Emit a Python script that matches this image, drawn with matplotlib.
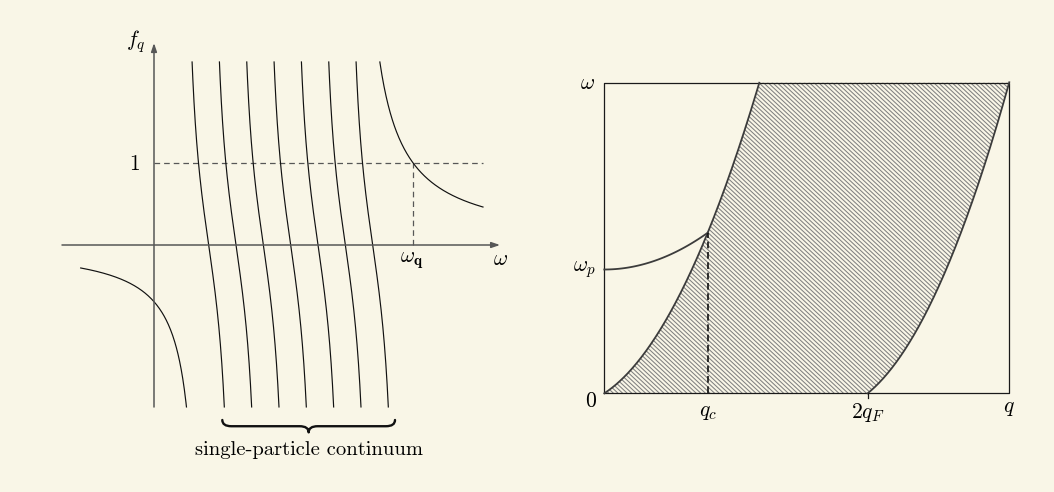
import matplotlib.pyplot as plt
import numpy as np
from matplotlib.path import Path
from matplotlib.patches import PathPatch, Polygon
from matplotlib.collections import LineCollection

plt.rcParams['mathtext.fontset'] = 'cm'
plt.rcParams['font.family'] = 'serif'
plt.rcParams['font.serif'] = ['cmr10']
plt.rcParams['axes.unicode_minus'] = False

bg = '#f9f6e7'

# left panel: f_q(omega) with the particle-hole branches in between
branch_zeros = [2/3, 1, 4/3, 5/3, 2, 7/3, 8/3]   # where each branch crosses f = 0
branch_width = 0.2
branch_stiff = 1.4
low_pole, low_weight = 0.609, 0.421
high_pole, high_weight = 2.425, 0.735
f_top, f_bottom = 2.232, -1.975
low_start = -0.894
high_end = 4.012
omega_q = high_pole + high_weight      # f_q(omega_q) = 1

# right panel: excitation spectrum omega(q)
q_c = 0.785
q_2F = 2.0
q_max = 3.075
w_max = 2.358
w_p = 0.940
upper_ab = (1.15, 0.65)    # omega_+ = a q^2 + b q
lower_ab = (1.29, 0.81)    # omega_- = a (q-2q_F)^2 + b (q-2q_F)

fig = plt.figure(figsize=(10.54, 4.92), dpi=100, facecolor=bg)
fs = 15.5

# ---------------- left panel ----------------
px = 82.0
L, R, T, B = 40, 520, 30, 470
ax1 = fig.add_axes([L/1054, 1 - B/492, (R-L)/1054, (B-T)/492])
ax1.set_xlim((L-154)/px, (R-154)/px)
ax1.set_ylim((245-B)/px, (245-T)/px)
ax1.axis('off')

axis_col = '#575757'
arr = dict(arrowstyle='-|>,head_length=0.5,head_width=0.17', color=axis_col,
           lw=1.1, shrinkA=0, shrinkB=0)
ax1.annotate('', xy=(4.22, 0), xytext=(-1.122, 0), arrowprops=arr)
ax1.annotate('', xy=(0, 2.463), xytext=(0, -1.976), arrowprops=arr)

dash = (0, (4.5, 3.2))
ax1.plot([0, 4.012], [1, 1], color=axis_col, lw=0.9, ls=dash)
ax1.plot([omega_q, omega_q], [0, 1], color=axis_col, lw=0.9, ls=dash)

f = np.linspace(f_bottom, f_top, 200)
for z in branch_zeros:
    ax1.plot(z - branch_width * np.arctan(f / branch_stiff), f, color='#111111', lw=0.85)

w = np.linspace(low_start, low_pole + low_weight / f_bottom, 200)
ax1.plot(w, low_weight / (w - low_pole), color='#111111', lw=0.85)
w = np.linspace(high_pole + high_weight / f_top, high_end, 200)
ax1.plot(w, high_weight / (w - high_pole), color='#111111', lw=0.85)

ax1.text(-0.22, 2.475, r'$f_q$', fontsize=fs, ha='center', va='center')
ax1.text(-0.235, 0.985, r'$1$', fontsize=fs, ha='center', va='center')
ax1.text(omega_q - 0.02, -0.19, r'$\omega_{\mathbf{q}}$', fontsize=fs, ha='center', va='center')
ax1.text(4.23, -0.17, r'$\omega$', fontsize=fs, ha='center', va='center')

# brace under the branches
x0, x1 = 0.833, 2.939
xm = 0.5 * (x0 + x1)
yt, ym, yb = -2.134, -2.21, -2.285
r = 0.11
verts = [(x0, yt), (x0, ym), (x0 + r, ym), (xm - r, ym), (xm, ym), (xm, yb),
         (xm, ym), (xm + r, ym), (x1 - r, ym), (x1, ym), (x1, yt)]
codes = [Path.MOVETO, Path.CURVE3, Path.CURVE3, Path.LINETO, Path.CURVE3, Path.CURVE3,
         Path.CURVE3, Path.CURVE3, Path.LINETO, Path.CURVE3, Path.CURVE3]
ax1.add_patch(PathPatch(Path(verts, codes), fc='none', ec='#111111', lw=1.7,
                        capstyle='round', joinstyle='round'))
ax1.text(xm, -2.5, 'single-particle continuum', fontsize=14.8, ha='center', va='center')

# ---------------- right panel ----------------
sc = 131.7
L2, R2, T2, B2 = 560, 1040, 60, 440
ax2 = fig.add_axes([L2/1054, 1 - B2/492, (R2-L2)/1054, (B2-T2)/492])
ax2.set_xlim((L2-604.3)/sc, (R2-604.3)/sc)
ax2.set_ylim((393.3-B2)/sc, (393.3-T2)/sc)
ax2.axis('off')

a, b = upper_ab
a2, b2 = lower_ab
q_top = (-b + np.sqrt(b*b + 4*a*w_max)) / (2*a)
qu = np.linspace(0, q_top, 200)
wu = a*qu**2 + b*qu
ql = np.linspace(q_2F, q_max, 200)
wl = a2*(ql-q_2F)**2 + b2*(ql-q_2F)

region = np.vstack([np.column_stack([qu, wu]),
                    [[q_max, w_max]],
                    np.column_stack([ql[::-1], wl[::-1]]),
                    [[0, 0]]])
clip = Polygon(region, closed=True, fc='none', ec='none')
ax2.add_patch(clip)

# north-west hatching
ang = np.deg2rad(43)
gap = 4.6 / sc
run = w_max / np.tan(ang)
starts = np.arange(0, q_max + run + gap, gap)
segs = [[(s - run - 0.05, w_max + 0.05*np.tan(ang)), (s + 0.05, -0.05*np.tan(ang))] for s in starts]
hatch = LineCollection(segs, colors='#808080', linewidths=0.75)
ax2.add_collection(hatch)
hatch.set_clip_path(clip)

ax2.plot([0, q_max, q_max, 0, 0], [0, 0, w_max, w_max, 0], color='#1a1a1a', lw=0.9)

curve_col = '#3c3c3c'
ax2.plot(qu, wu, color=curve_col, lw=1.3)
ax2.plot(ql, wl, color=curve_col, lw=1.3)
w_c = a*q_c**2 + b*q_c
qp = np.linspace(0, q_c, 100)
ax2.plot(qp, w_p + (w_c - w_p) * (qp / q_c)**2, color=curve_col, lw=1.3)
ax2.plot([q_c, q_c], [0, w_c], color='#111111', lw=1.2, ls=(0, (4, 2.2)))
ax2.plot([q_2F, q_2F], [0, -0.035], color='#1a1a1a', lw=0.9)

ax2.text(-0.125, w_max, r'$\omega$', fontsize=fs, ha='center', va='center')
ax2.text(-0.15, w_p, r'$\omega_p$', fontsize=fs, ha='center', va='center')
ax2.text(-0.1, -0.06, r'$0$', fontsize=fs, ha='center', va='center')
ax2.text(q_c, -0.145, r'$q_c$', fontsize=fs, ha='center', va='center')
ax2.text(q_2F, -0.145, r'$2q_F$', fontsize=fs, ha='center', va='center')
ax2.text(q_max, -0.115, r'$q$', fontsize=fs, ha='center', va='center')

fig.savefig('out.png', dpi=100, facecolor=bg)
